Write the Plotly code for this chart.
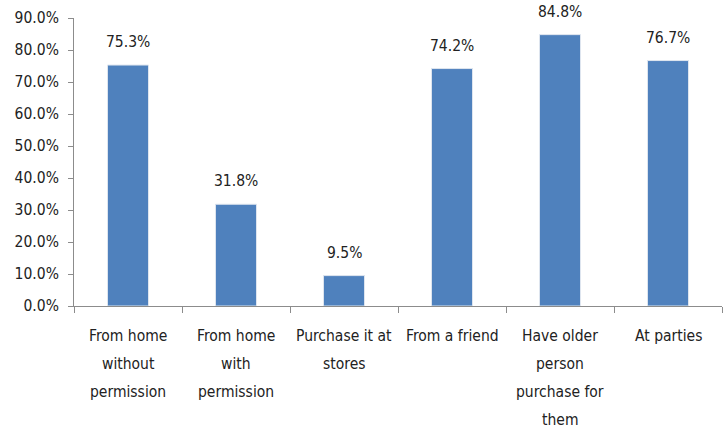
import plotly.graph_objects as go

categories = [
    "From home without permission",
    "From home with permission",
    "Purchase it at stores",
    "From a friend",
    "Have older person purchase for them",
    "At parties",
]
category_lines = [
    ["From home", "without", "permission"],
    ["From home", "with", "permission"],
    ["Purchase it at", "stores"],
    ["From a friend"],
    ["Have older", "person", "purchase for", "them"],
    ["At parties"],
]
values = [75.3, 31.8, 9.5, 74.2, 84.8, 76.7]
y_ticks = [0, 10, 20, 30, 40, 50, 60, 70, 80, 90]
y_tick_labels = [f"{v:.1f}%" for v in y_ticks]

FONT = "DejaVu Sans Condensed, Liberation Sans Narrow, sans-serif"
FONT_SIZE = 15.5
TEXT_COLOR = "#222222"
AXIS_COLOR = "#8c8c8c"

fig = go.Figure(
    go.Bar(
        x=categories,
        y=values,
        width=0.38,
        marker=dict(color="#4f81bd", line=dict(color="#dfe6ef", width=1)),
        hoverinfo="x+y",
    )
)

# value labels above each bar
for cat, v in zip(categories, values):
    fig.add_annotation(
        x=cat, y=v, xref="x", yref="y",
        text=f"{v:.1f}%", showarrow=False,
        yanchor="middle", yshift=23,
        font=dict(family=FONT, size=FONT_SIZE, color=TEXT_COLOR),
    )

# multi-line category labels under the axis, wider line spacing
LINE_STEP = 28
FIRST_OFFSET = 30
for cat, lines in zip(categories, category_lines):
    for i, line in enumerate(lines):
        fig.add_annotation(
            x=cat, y=0, xref="x", yref="y",
            text=line, showarrow=False,
            yanchor="middle", yshift=-(FIRST_OFFSET + i * LINE_STEP),
            font=dict(family=FONT, size=FONT_SIZE, color=TEXT_COLOR),
        )

fig.update_layout(
    width=725,
    height=430,
    margin=dict(l=74, r=3, t=18, b=124),
    paper_bgcolor="white",
    plot_bgcolor="white",
    showlegend=False,
    font=dict(family=FONT, size=FONT_SIZE, color=TEXT_COLOR),
    bargap=0.62,
)

fig.update_yaxes(
    range=[0, 90],
    tickvals=y_ticks,
    ticktext=y_tick_labels,
    showgrid=False,
    zeroline=False,
    showline=True,
    linecolor=AXIS_COLOR,
    linewidth=1,
    ticks="outside",
    ticklen=5,
    tickcolor=AXIS_COLOR,
    ticklabelstandoff=6,
    tickfont=dict(family=FONT, size=FONT_SIZE, color=TEXT_COLOR),
)

fig.update_xaxes(
    showgrid=False,
    showline=True,
    linecolor=AXIS_COLOR,
    linewidth=1,
    ticks="outside",
    ticklen=6,
    tickcolor=AXIS_COLOR,
    tickson="boundaries",
    showticklabels=False,
)

fig.write_html("out.html")
